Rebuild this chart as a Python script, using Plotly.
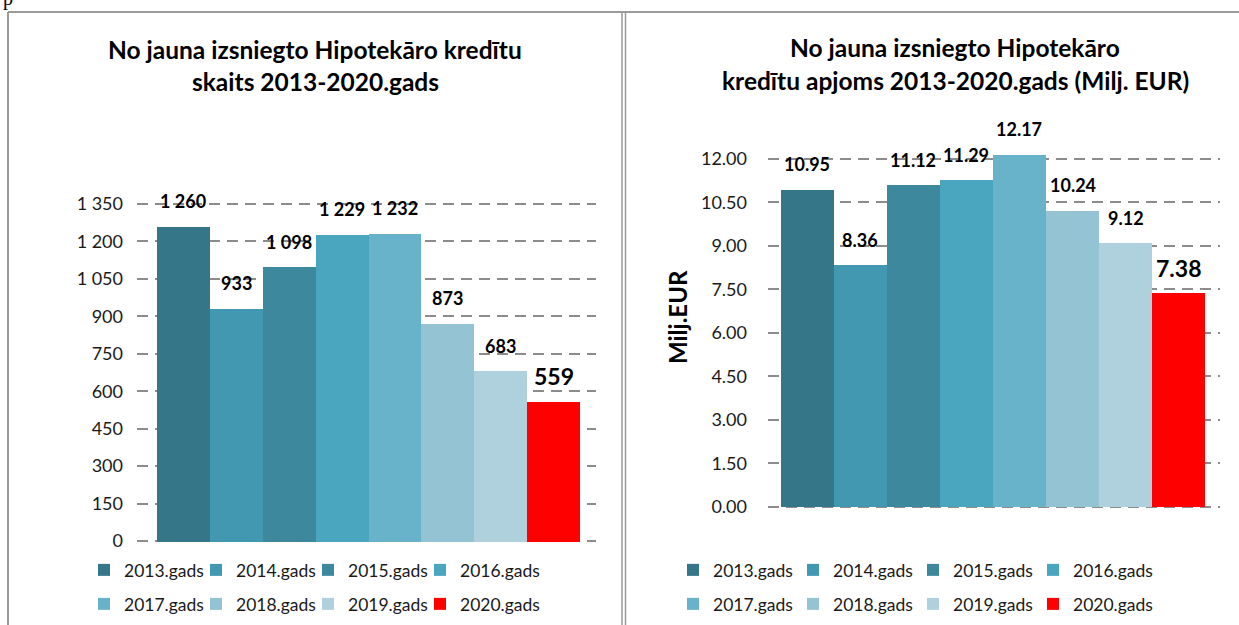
import plotly.graph_objects as go

W, H = 1239, 625

years = ["2013.gads", "2014.gads", "2015.gads", "2016.gads",
         "2017.gads", "2018.gads", "2019.gads", "2020.gads"]
count_values = [1260, 933, 1098, 1229, 1232, 873, 683, 559]
volume_values = [10.95, 8.36, 11.12, 11.29, 12.17, 10.24, 9.12, 7.38]
colors = ["#357689", "#4398b1", "#3e889d", "#4aa6bf",
          "#69b3ca", "#94c3d4", "#aed1dd", "#ff0000"]

left_ticks = [0, 150, 300, 450, 600, 750, 900, 1050, 1200, 1350]
right_ticks = [0, 1.5, 3, 4.5, 6, 7.5, 9, 10.5, 12]

left_title = ["No jauna izsniegto Hipotekāro kredītu", "skaits 2013-2020.gads"]
right_title = ["No jauna izsniegto Hipotekāro", "kredītu apjoms 2013-2020.gads (Milj. EUR)"]
right_ytitle = "Milj.EUR"

FONT = "Lato"


def px(x):
    return x / W


def py(y):
    return 1 - y / H


fig = go.Figure()

for i, (name, v, c) in enumerate(zip(years, count_values, colors)):
    fig.add_trace(go.Bar(
        x=[name], y=[v], name=name, marker=dict(color=c, line=dict(width=0)),
        xaxis="x", yaxis="y", legend="legend" if i < 4 else "legend2",
        legendwidth=95 if i % 4 == 3 else None,
        hoverinfo="skip"))

for i, (name, v, c) in enumerate(zip(years, volume_values, colors)):
    fig.add_trace(go.Bar(
        x=[name], y=[v], name=name, marker=dict(color=c, line=dict(width=0)),
        xaxis="x2", yaxis="y2", legend="legend3" if i < 4 else "legend4",
        legendwidth=95 if i % 4 == 3 else None,
        hoverinfo="skip"))

annotations = []
for i, (name, v) in enumerate(zip(years, count_values)):
    last = i == len(years) - 1
    annotations.append(dict(
        x=name, y=v, xref="x", yref="y", showarrow=False,
        text=f"{v:,}".replace(",", " "), yanchor="middle", yshift=25,
        font=dict(family=FONT, size=23 if last else 18, color="#000000", weight="bold")))
for i, (name, v) in enumerate(zip(years, volume_values)):
    last = i == len(years) - 1
    annotations.append(dict(
        x=name, y=v, xref="x2", yref="y2", showarrow=False,
        text=f"{v:.2f}", yanchor="middle", yshift=25,
        font=dict(family=FONT, size=23 if last else 18, color="#000000", weight="bold")))

TITLE_SIZE = 24.5
for line, yy in zip(left_title, [49, 82]):
    annotations.append(dict(x=px(315), y=py(yy), xref="paper", yref="paper",
                            text=line, showarrow=False, xanchor="center", yanchor="middle",
                            font=dict(family=FONT, size=TITLE_SIZE, color="#000000", weight="bold")))
for line, yy in zip(right_title, [48, 81]):
    annotations.append(dict(x=px(955), y=py(yy), xref="paper", yref="paper",
                            text=line, showarrow=False, xanchor="center", yanchor="middle",
                            font=dict(family=FONT, size=TITLE_SIZE, color="#000000", weight="bold")))
annotations.append(dict(x=px(677), y=py(317), xref="paper", yref="paper",
                        text=right_ytitle, textangle=-90, showarrow=False,
                        xanchor="center", yanchor="middle",
                        font=dict(family=FONT, size=24, color="#000000", weight="bold")))
annotations.append(dict(x=px(8), y=1, xref="paper", yref="paper", text="p",
                        showarrow=False, xanchor="center", yanchor="bottom", yshift=-12,
                        font=dict(family="Liberation Serif", size=20, color="#000000")))

border = "#9a9a9a"
shapes = [
    dict(type="line", xref="paper", yref="paper", x0=px(8), x1=1, y0=py(12), y1=py(12),
         line=dict(color=border, width=2)),
    dict(type="line", xref="paper", yref="paper", x0=px(8), x1=px(8), y0=py(12), y1=0,
         line=dict(color=border, width=2)),
    dict(type="line", xref="paper", yref="paper", x0=px(622), x1=px(622), y0=py(12), y1=0,
         line=dict(color=border, width=1.5)),
    dict(type="line", xref="paper", yref="paper", x0=px(625.5), x1=px(625.5), y0=py(12), y1=0,
         line=dict(color=border, width=1.5)),
]

grid = dict(showgrid=True, gridcolor="#8c8c8c", gridwidth=2, griddash="11px,7px",
            zeroline=False, showline=False, ticks="",
            tickfont=dict(family=FONT, size=18, color="#1a1a1a"))
xcommon = dict(type="category", categoryorder="array", categoryarray=years,
               showticklabels=False, showgrid=False, zeroline=False, showline=False,
               ticks="", fixedrange=True)

legend_common = dict(orientation="h", xanchor="left", yanchor="middle",
                     font=dict(family=FONT, size=17.5, color="#1a1a1a"),
                     bgcolor="rgba(0,0,0,0)", borderwidth=0, entrywidthmode="pixels",
                     traceorder="normal")

fig.update_layout(
    width=W, height=H,
    margin=dict(l=0, r=0, t=0, b=0, autoexpand=False),
    paper_bgcolor="white", plot_bgcolor="white",
    barmode="overlay", bargap=0,
    separators=". ",
    xaxis=dict(domain=[px(137), px(596)], range=[-0.878, 7.802], **xcommon),
    yaxis=dict(domain=[py(542.5), py(202.5)], range=[-6, 1356], tickvals=left_ticks,
               tickformat=",d", ticklabelstandoff=13, fixedrange=True, **grid),
    xaxis2=dict(domain=[px(768), px(1220)], range=[-0.745, 7.783], anchor="y2", **xcommon),
    yaxis2=dict(domain=[py(508.7), py(144.5)], range=[-0.06, 12.5], tickvals=right_ticks,
                tickformat=".2f", anchor="x2", ticklabelstandoff=20, fixedrange=True, **grid),
    legend=dict(x=px(84), y=py(570), entrywidth=67, **legend_common),
    legend2=dict(x=px(84), y=py(604), entrywidth=67, **legend_common),
    legend3=dict(x=px(673), y=py(570), entrywidth=75, **legend_common),
    legend4=dict(x=px(673), y=py(604), entrywidth=75, **legend_common),
    annotations=annotations,
    shapes=shapes,
    showlegend=True,
)

fig.write_html("out.html", config={"displayModeBar": False},
               post_script="document.body.style.margin='0';")
